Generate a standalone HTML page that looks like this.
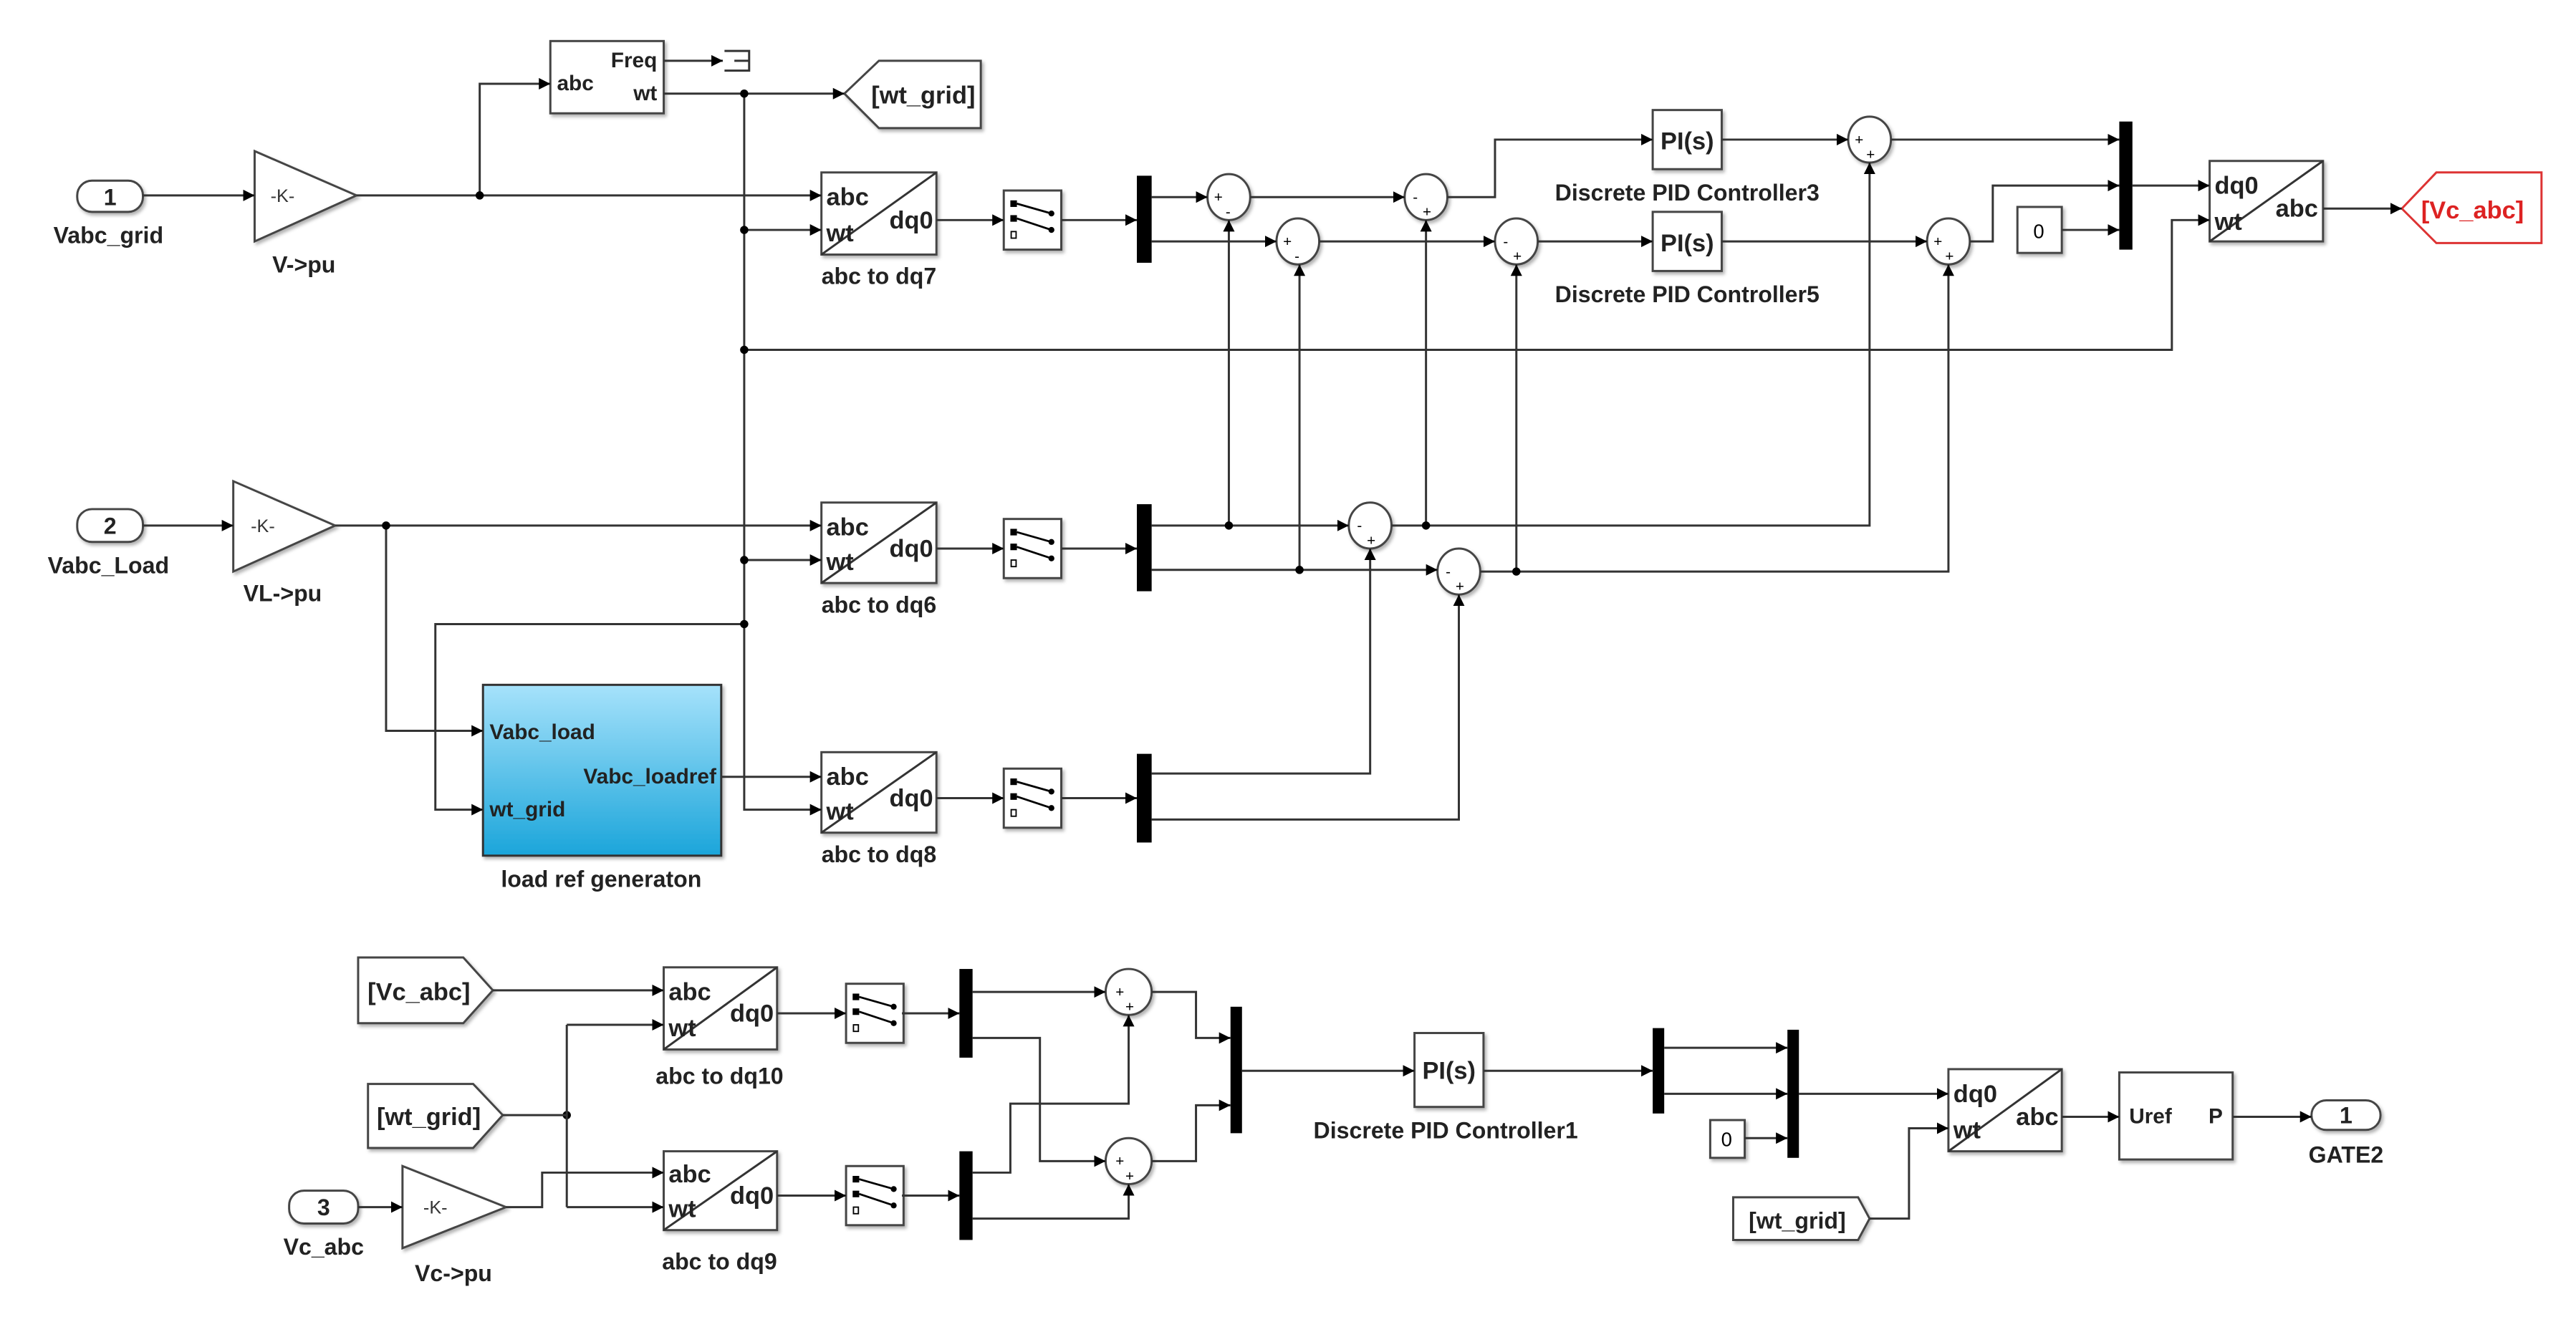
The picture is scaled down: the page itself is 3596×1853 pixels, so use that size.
<!DOCTYPE html>
<html><head><meta charset="utf-8"><style>
html,body{margin:0;padding:0;background:#fff;}
svg{display:block;}
.l{fill:none;stroke:#333;stroke-width:1.3;}
.la{fill:none;stroke:#333;stroke-width:1.3;marker-end:url(#a);}
.b{fill:#fff;stroke:#444;stroke-width:1.3;filter:url(#sh);}
.t{font-family:"Liberation Sans",Arial,sans-serif;font-weight:bold;fill:#222;}
.bar{fill:#000;}
</style></head><body>
<svg width="3596" height="1853" viewBox="0 0 1568 808" preserveAspectRatio="none" xmlns="http://www.w3.org/2000/svg">
<defs>
<marker id="a" viewBox="0 0 10 10" refX="10" refY="5" markerWidth="7" markerHeight="8" markerUnits="userSpaceOnUse" orient="auto"><path d="M0,0L10,5L0,10z" fill="#000"/></marker>
<filter id="sh" x="-10%" y="-10%" width="130%" height="130%"><feDropShadow dx="1.2" dy="1.5" stdDeviation="1" flood-color="#000" flood-opacity="0.3"/></filter>
<linearGradient id="g" x1="0" y1="0" x2="0" y2="1"><stop offset="0" stop-color="#a6e2fb"/><stop offset="1" stop-color="#1ba5da"/></linearGradient>
<g id="sel">
<rect class="b" x="0" y="0" width="35" height="36"/>
<rect x="4" y="6" width="4" height="4" fill="#000"/><rect x="4" y="15" width="4" height="4" fill="#000"/><rect x="4.5" y="25" width="3" height="4" fill="none" stroke="#000" stroke-width="0.8"/>
<path d="M8,8L29,14M8,17L29,24" stroke="#000" stroke-width="1.2"/>
<circle cx="29" cy="14" r="1.8"/><circle cx="29" cy="24" r="1.8"/>
</g>
</defs>

<!-- ===== TOP ROW ===== -->
<rect class="b" x="47" y="110" width="40" height="19" rx="9"/>
<text class="t" x="67" y="125" font-size="14" text-anchor="middle">1</text>
<text class="t" x="66" y="148" font-size="14" text-anchor="middle">Vabc_grid</text>
<path class="b" d="M155,92L217,119L155,147Z"/>
<text x="172" y="123" font-size="11" text-anchor="middle" font-family="Liberation Sans,sans-serif" fill="#333">-K-</text>
<text class="t" x="185" y="166" font-size="14" text-anchor="middle">V-&gt;pu</text>

<rect class="b" x="335" y="25" width="69" height="44"/>
<text class="t" x="339" y="55" font-size="13">abc</text>
<text class="t" x="400" y="41" font-size="13" text-anchor="end">Freq</text>
<text class="t" x="400" y="61" font-size="13" text-anchor="end">wt</text>
<path class="l" d="M441,31H456V43H441M447,37H456"/>
<path class="b" d="M514,57L535,37H597V78H535Z"/>
<text class="t" x="562" y="63" font-size="15" text-anchor="middle">[wt_grid]</text>

<!-- abc to dq blocks -->
<g>
<rect class="b" x="500" y="105" width="70" height="50"/><path class="l" d="M500,155L570,105"/>
<text class="t" x="503" y="125" font-size="15">abc</text><text class="t" x="503" y="147" font-size="15">wt</text><text class="t" x="568" y="139" font-size="15" text-anchor="end">dq0</text>
<text class="t" x="535" y="173" font-size="14" text-anchor="middle">abc to dq7</text>
</g>
<g>
<rect class="b" x="500" y="306" width="70" height="49"/><path class="l" d="M500,355L570,306"/>
<text class="t" x="503" y="326" font-size="15">abc</text><text class="t" x="503" y="347" font-size="15">wt</text><text class="t" x="568" y="339" font-size="15" text-anchor="end">dq0</text>
<text class="t" x="535" y="373" font-size="14" text-anchor="middle">abc to dq6</text>
</g>
<g>
<rect class="b" x="500" y="458" width="70" height="49"/><path class="l" d="M500,507L570,458"/>
<text class="t" x="503" y="478" font-size="15">abc</text><text class="t" x="503" y="499" font-size="15">wt</text><text class="t" x="568" y="491" font-size="15" text-anchor="end">dq0</text>
<text class="t" x="535" y="525" font-size="14" text-anchor="middle">abc to dq8</text>
</g>
<use href="#sel" x="611" y="116"/>
<use href="#sel" x="611" y="316"/>
<use href="#sel" x="611" y="468"/>
<rect class="bar" x="692" y="107" width="9" height="53"/>
<rect class="bar" x="692" y="307" width="9" height="53"/>
<rect class="bar" x="692" y="459" width="9" height="54"/>

<!-- sums -->
<g font-family="Liberation Sans,sans-serif" font-size="9" fill="#000">
<ellipse class="b" cx="748" cy="120" rx="13" ry="14"/><text x="739" y="123">+</text><text x="746" y="132">-</text>
<ellipse class="b" cx="790" cy="147" rx="13" ry="14"/><text x="781" y="150">+</text><text x="788" y="159">-</text>
<ellipse class="b" cx="868" cy="120" rx="13" ry="14"/><text x="860" y="123">-</text><text x="866" y="132">+</text>
<ellipse class="b" cx="923" cy="147" rx="13" ry="14"/><text x="915" y="150">-</text><text x="921" y="159">+</text>
<ellipse class="b" cx="1138" cy="85" rx="13" ry="14"/><text x="1129" y="88">+</text><text x="1136" y="97">+</text>
<ellipse class="b" cx="1186" cy="147" rx="13" ry="14"/><text x="1177" y="150">+</text><text x="1184" y="159">+</text>
<ellipse class="b" cx="834" cy="320" rx="13" ry="14"/><text x="826" y="323">-</text><text x="832" y="332">+</text>
<ellipse class="b" cx="888" cy="348" rx="13" ry="14"/><text x="880" y="351">-</text><text x="886" y="360">+</text>
<ellipse class="b" cx="687" cy="604" rx="14" ry="14"/><text x="679" y="607">+</text><text x="685" y="616">+</text>
<ellipse class="b" cx="687" cy="707" rx="14" ry="14"/><text x="679" y="710">+</text><text x="685" y="719">+</text>
</g>

<!-- PI blocks -->
<rect class="b" x="1006" y="67" width="42" height="36"/><text class="t" x="1027" y="91" font-size="15" text-anchor="middle">PI(s)</text>
<text class="t" x="1027" y="122" font-size="14" text-anchor="middle">Discrete PID Controller3</text>
<rect class="b" x="1006" y="129" width="42" height="36"/><text class="t" x="1027" y="153" font-size="15" text-anchor="middle">PI(s)</text>
<text class="t" x="1027" y="184" font-size="14" text-anchor="middle">Discrete PID Controller5</text>
<rect class="b" x="1228" y="126" width="27" height="28"/><text x="1241" y="145" font-size="12" text-anchor="middle" font-family="Liberation Sans,sans-serif">0</text>
<rect class="bar" x="1290" y="74" width="8" height="78"/>
<rect class="b" x="1345" y="98" width="69" height="49"/><path class="l" d="M1345,147L1414,98"/>
<text class="t" x="1348" y="118" font-size="15">dq0</text><text class="t" x="1348" y="140" font-size="15">wt</text><text class="t" x="1411" y="132" font-size="15" text-anchor="end">abc</text>
<path d="M1462,127L1483,105H1547V148H1483Z" fill="#fff" stroke="#d33" stroke-width="1.3"/>
<text x="1505" y="133" font-size="15" text-anchor="middle" font-family="Liberation Sans,sans-serif" font-weight="bold" fill="#d22">[Vc_abc]</text>

<!-- row 2 -->
<rect class="b" x="47" y="310" width="40" height="20" rx="9"/>
<text class="t" x="67" y="325" font-size="14" text-anchor="middle">2</text>
<text class="t" x="66" y="349" font-size="14" text-anchor="middle">Vabc_Load</text>
<path class="b" d="M142,293L204,320L142,348Z"/>
<text x="160" y="324" font-size="11" text-anchor="middle" font-family="Liberation Sans,sans-serif" fill="#333">-K-</text>
<text class="t" x="172" y="366" font-size="14" text-anchor="middle">VL-&gt;pu</text>

<rect x="294" y="417" width="145" height="104" fill="url(#g)" stroke="#333" stroke-width="1.3" filter="url(#sh)"/>
<text class="t" x="298" y="450" font-size="13">Vabc_load</text>
<text class="t" x="298" y="497" font-size="13">wt_grid</text>
<text class="t" x="436" y="477" font-size="13" text-anchor="end">Vabc_loadref</text>
<text class="t" x="366" y="540" font-size="14" text-anchor="middle">load ref generaton</text>

<!-- wires top -->
<path class="la" d="M87,119H155"/>
<path class="la" d="M217,119H500"/>
<path class="la" d="M292,119V51H335"/>
<path class="la" d="M404,37H440"/>
<path class="la" d="M404,57H514"/>
<path class="la" d="M453,57V493H500"/>
<path class="la" d="M453,140H500"/>
<path class="la" d="M453,341H500"/>
<path class="la" d="M453,213H1322V134H1345"/>
<path class="la" d="M453,380H265V493H294"/>
<path class="la" d="M570,134H611"/>
<path class="la" d="M646,134H692"/>
<path class="la" d="M701,120H735"/>
<path class="la" d="M761,120H855"/>
<path class="la" d="M701,147H777"/>
<path class="la" d="M803,147H910"/>
<path class="la" d="M881,120H910V85H1006"/>
<path class="la" d="M936,147H1006"/>
<path class="la" d="M1048,85H1125"/>
<path class="la" d="M1151,85H1290"/>
<path class="la" d="M1048,147H1173"/>
<path class="la" d="M1199,147H1213V113H1290"/>
<path class="la" d="M1255,140H1290"/>
<path class="la" d="M1298,113H1345"/>
<path class="la" d="M1414,127H1462"/>
<!-- row 2 wires -->
<path class="la" d="M87,320H142"/>
<path class="la" d="M204,320H500"/>
<path class="la" d="M235,320V445H294"/>
<path class="la" d="M570,334H611"/>
<path class="la" d="M646,334H692"/>
<path class="la" d="M701,320H821"/>
<path class="la" d="M847,320H1138V99"/>
<path class="la" d="M701,347H875"/>
<path class="la" d="M901,348H1186V161"/>
<path class="la" d="M748,320V134"/>
<path class="la" d="M791,347V161"/>
<path class="la" d="M868,320V134"/>
<path class="la" d="M923,348V161"/>
<!-- row 3 -->
<path class="la" d="M439,473H500"/>
<path class="la" d="M570,486H611"/>
<path class="la" d="M646,486H692"/>
<path class="la" d="M701,471H834V334"/>
<path class="la" d="M701,499H888V362"/>

<g fill="#000">
<circle cx="292" cy="119" r="2.5"/><circle cx="453" cy="57" r="2.5"/><circle cx="453" cy="140" r="2.5"/>
<circle cx="453" cy="213" r="2.5"/><circle cx="453" cy="341" r="2.5"/><circle cx="453" cy="380" r="2.5"/>
<circle cx="235" cy="320" r="2.5"/><circle cx="748" cy="320" r="2.5"/><circle cx="868" cy="320" r="2.5"/>
<circle cx="791" cy="347" r="2.5"/><circle cx="923" cy="348" r="2.5"/><circle cx="345" cy="679" r="2.5"/>
</g>

<!-- ===== BOTTOM SECTION ===== -->
<path class="b" d="M218,583H282L300,603L282,623H218Z"/>
<text class="t" x="255" y="609" font-size="15" text-anchor="middle">[Vc_abc]</text>
<path class="b" d="M224,660H288L306,679L288,699H224Z"/>
<text class="t" x="261" y="685" font-size="15" text-anchor="middle">[wt_grid]</text>
<rect class="b" x="176" y="725" width="42" height="20" rx="9"/>
<text class="t" x="197" y="740" font-size="14" text-anchor="middle">3</text>
<text class="t" x="197" y="764" font-size="14" text-anchor="middle">Vc_abc</text>
<path class="b" d="M245,710L308,735L245,760Z"/>
<text x="265" y="739" font-size="11" text-anchor="middle" font-family="Liberation Sans,sans-serif" fill="#333">-K-</text>
<text class="t" x="276" y="780" font-size="14" text-anchor="middle">Vc-&gt;pu</text>

<rect class="b" x="404" y="589" width="69" height="50"/><path class="l" d="M404,639L473,589"/>
<text class="t" x="407" y="609" font-size="15">abc</text><text class="t" x="407" y="631" font-size="15">wt</text><text class="t" x="471" y="622" font-size="15" text-anchor="end">dq0</text>
<text class="t" x="438" y="660" font-size="14" text-anchor="middle">abc to dq10</text>
<rect class="b" x="404" y="701" width="69" height="48"/><path class="l" d="M404,749L473,701"/>
<text class="t" x="407" y="720" font-size="15">abc</text><text class="t" x="407" y="741" font-size="15">wt</text><text class="t" x="471" y="733" font-size="15" text-anchor="end">dq0</text>
<text class="t" x="438" y="773" font-size="14" text-anchor="middle">abc to dq9</text>
<use href="#sel" x="515" y="599"/>
<use href="#sel" x="515" y="710"/>
<rect class="bar" x="584" y="590" width="8" height="54"/>
<rect class="bar" x="584" y="701" width="8" height="54"/>
<rect class="bar" x="749" y="613" width="7" height="77"/>

<rect class="b" x="861" y="629" width="42" height="45"/><text class="t" x="882" y="657" font-size="15" text-anchor="middle">PI(s)</text>
<text class="t" x="880" y="693" font-size="14" text-anchor="middle">Discrete PID Controller1</text>
<rect class="bar" x="1006" y="626" width="7" height="52"/>
<rect class="bar" x="1088" y="627" width="7" height="78"/>
<rect class="b" x="1041" y="682" width="21" height="23"/><text x="1051" y="698" font-size="12" text-anchor="middle" font-family="Liberation Sans,sans-serif">0</text>
<rect class="b" x="1186" y="651" width="69" height="50"/><path class="l" d="M1186,701L1255,651"/>
<text class="t" x="1189" y="671" font-size="15">dq0</text><text class="t" x="1189" y="693" font-size="15">wt</text><text class="t" x="1253" y="685" font-size="15" text-anchor="end">abc</text>
<path class="b" d="M1055,729H1131L1138,742L1131,755H1055Z"/>
<text class="t" x="1094" y="748" font-size="14" text-anchor="middle">[wt_grid]</text>
<rect class="b" x="1290" y="653" width="69" height="53"/>
<text class="t" x="1296" y="684" font-size="13">Uref</text><text class="t" x="1353" y="684" font-size="13" text-anchor="end">P</text>
<rect class="b" x="1407" y="670" width="42" height="18" rx="9"/>
<text class="t" x="1428" y="684" font-size="14" text-anchor="middle">1</text>
<text class="t" x="1428" y="708" font-size="14" text-anchor="middle">GATE2</text>

<path class="la" d="M300,603H404"/>
<path class="l" d="M306,679H345M345,624V735"/>
<path class="la" d="M345,624H404"/>
<path class="la" d="M345,735H404"/>
<path class="la" d="M218,735H245"/>
<path class="la" d="M308,735H330V714H404"/>
<path class="la" d="M473,617H515"/>
<path class="la" d="M549,617H584"/>
<path class="la" d="M473,728H515"/>
<path class="la" d="M549,728H584"/>
<path class="la" d="M592,604H673"/>
<path class="la" d="M592,632H633V707H673"/>
<path class="la" d="M592,714H615V672H687V618"/>
<path class="la" d="M592,742H687V721"/>
<path class="la" d="M701,604H728V632H749"/>
<path class="la" d="M701,707H728V673H749"/>
<path class="la" d="M756,652H861"/>
<path class="la" d="M903,652H1006"/>
<path class="la" d="M1013,638H1088"/>
<path class="la" d="M1013,666H1088"/>
<path class="la" d="M1062,693H1088"/>
<path class="la" d="M1095,666H1186"/>
<path class="la" d="M1138,742H1162V687H1186"/>
<path class="la" d="M1255,680H1290"/>
<path class="la" d="M1359,680H1407"/>
</svg>
</body></html>
